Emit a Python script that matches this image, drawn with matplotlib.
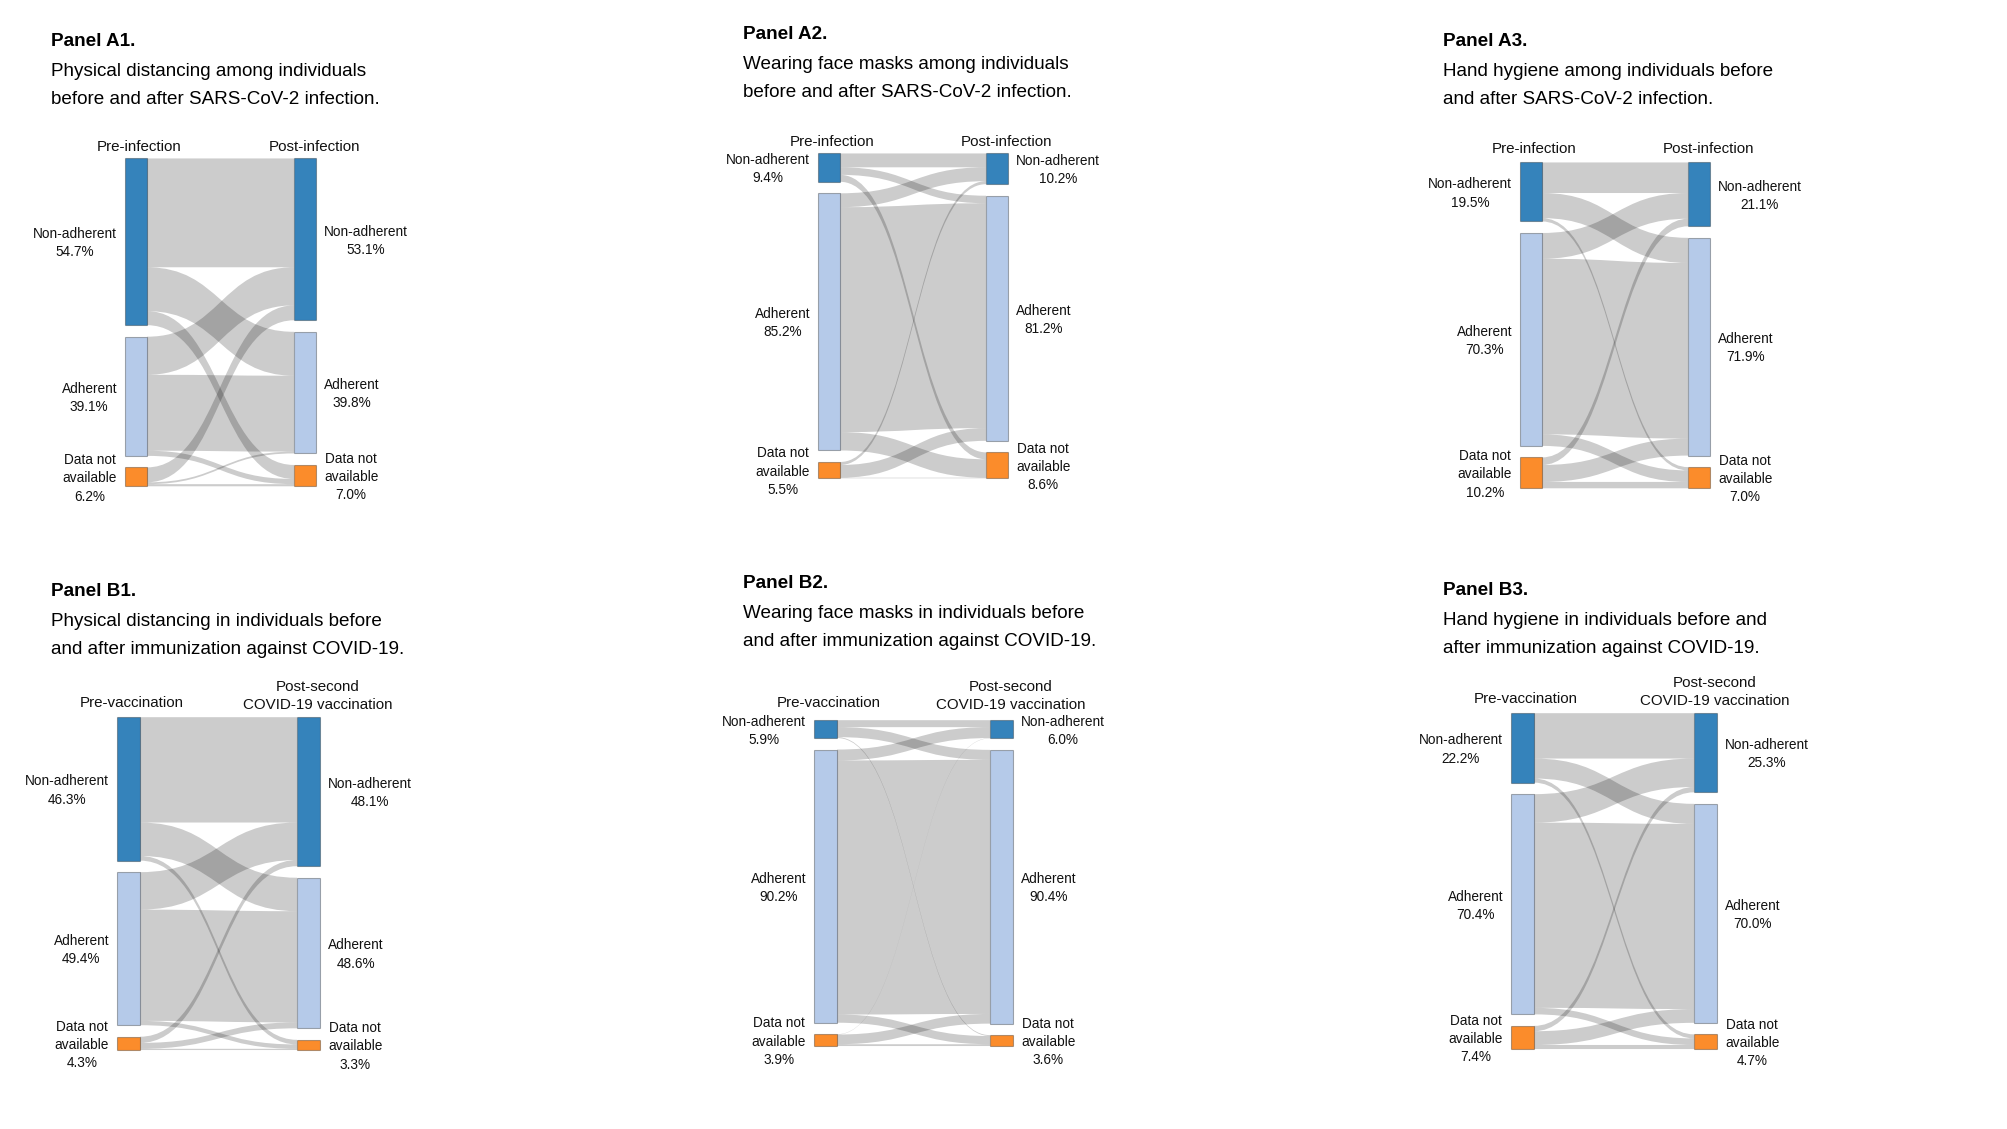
import matplotlib
matplotlib.use("Agg")
import matplotlib.pyplot as plt
from matplotlib.path import Path
from matplotlib.patches import PathPatch, Rectangle
from matplotlib import font_manager

# ---------------- data ----------------
categories = ["Non-adherent", "Adherent", "Data not\navailable"]

panel_names = ["Panel A1.", "Panel A2.", "Panel A3.", "Panel B1.", "Panel B2.", "Panel B3."]
panel_subtitles = [
    "Physical distancing among individuals\nbefore and after SARS-CoV-2 infection.",
    "Wearing face masks among individuals\nbefore and after SARS-CoV-2 infection.",
    "Hand hygiene among individuals before\nand after SARS-CoV-2 infection.",
    "Physical distancing in individuals before\nand after immunization against COVID-19.",
    "Wearing face masks in individuals before\nand after immunization against COVID-19.",
    "Hand hygiene in individuals before and\nafter immunization against COVID-19.",
]
pre_headers = ["Pre-infection"] * 3 + ["Pre-vaccination"] * 3
post_headers = ["Post-infection"] * 3 + ["Post-second\nCOVID-19 vaccination"] * 3

pre_pct_A1 = [54.7, 39.1, 6.2]
post_pct_A1 = [53.1, 39.8, 7.0]
pre_pct_A2 = [9.4, 85.2, 5.5]
post_pct_A2 = [10.2, 81.2, 8.6]
pre_pct_A3 = [19.5, 70.3, 10.2]
post_pct_A3 = [21.1, 71.9, 7.0]
pre_pct_B1 = [46.3, 49.4, 4.3]
post_pct_B1 = [48.1, 48.6, 3.3]
pre_pct_B2 = [5.9, 90.2, 3.9]
post_pct_B2 = [6.0, 90.4, 3.6]
pre_pct_B3 = [22.2, 70.4, 7.4]
post_pct_B3 = [25.3, 70.0, 4.7]

# transitions (rows: pre category, cols: post category), % of individuals
flows_A1 = [[35.7, 14.4, 4.6], [12.5, 24.9, 1.7], [4.9, 0.6, 0.7]]
flows_A2 = [[4.6, 2.5, 2.3], [4.6, 74.5, 6.1], [1.0, 4.2, 0.2]]
flows_A3 = [[10.1, 8.3, 1.1], [8.5, 58.0, 3.8], [2.5, 5.6, 2.1]]
flows_B1 = [[34.0, 10.8, 1.5], [12.1, 35.9, 1.4], [2.0, 1.9, 0.4]]
flows_B2 = [[2.3, 3.3, 0.3], [3.6, 83.9, 2.7], [0.1, 3.2, 0.6]]
flows_B3 = [[14.5, 6.4, 1.3], [9.1, 59.2, 2.1], [1.7, 4.4, 1.3]]

pre_pcts = [pre_pct_A1, pre_pct_A2, pre_pct_A3, pre_pct_B1, pre_pct_B2, pre_pct_B3]
post_pcts = [post_pct_A1, post_pct_A2, post_pct_A3, post_pct_B1, post_pct_B2, post_pct_B3]
flows_all = [flows_A1, flows_A2, flows_A3, flows_B1, flows_B2, flows_B3]

# ---------------- layout (pixels of the 2008x1130 canvas) ----------------
layout = [
    dict(xl=125, xr=294, w=22, top=159, bot=487, tx=51, ty=42, hy=147),
    dict(xl=818, xr=986, w=22, top=154, bot=479, tx=743, ty=35, hy=142),
    dict(xl=1520, xr=1688, w=22, top=163, bot=489, tx=1443, ty=42, hy=149),
    dict(xl=117, xr=297, w=23, top=718, bot=1051, tx=51, ty=592, hy=703),
    dict(xl=814, xr=990, w=23, top=721, bot=1047, tx=743, ty=584, hy=703),
    dict(xl=1511, xr=1694, w=23, top=714, bot=1050, tx=1443, ty=591, hy=699),
]
GAP = 11.5

node_colors = ["#3583bb", "#b5cae9", "#fb8c2b"]
link_color = (0, 0, 0, 0.2)

names = {f.name for f in font_manager.fontManager.ttflist}
NARROW = "Liberation Sans Narrow" in names
FONT = "Liberation Sans Narrow" if NARROW else "Liberation Sans"
if NARROW:
    FS_TITLE, FS_SUB, FS_HEAD, FS_LAB = 15.5, 15.7, 12.5, 11.2
else:
    FS_TITLE, FS_SUB, FS_HEAD, FS_LAB = 13.6, 13.6, 10.9, 9.8
plt.rcParams["font.family"] = [FONT, "DejaVu Sans"]

fig = plt.figure(figsize=(20.08, 11.295), dpi=100)
ax = fig.add_axes([0, 0, 1, 1])
ax.set_xlim(0, 2008)
ax.set_ylim(1130, 0)
ax.axis("off")


def band(x0, y0a, y0b, x1, y1a, y1b):
    xm = (x0 + x1) / 2
    verts = [(x0, y0a), (xm, y0a), (xm, y1a), (x1, y1a),
             (x1, y1b), (xm, y1b), (xm, y0b), (x0, y0b), (x0, y0a)]
    codes = [Path.MOVETO, Path.CURVE4, Path.CURVE4, Path.CURVE4,
             Path.LINETO, Path.CURVE4, Path.CURVE4, Path.CURVE4, Path.CLOSEPOLY]
    return Path(verts, codes)


for p in range(6):
    L = layout[p]
    fl = flows_all[p]
    n = len(categories)
    out_tot = [sum(fl[i]) for i in range(n)]
    in_tot = [sum(fl[i][j] for i in range(n)) for j in range(n)]
    total = max(sum(out_tot), sum(in_tot))
    scale = (L["bot"] - L["top"] - 2 * GAP) / total

    # node positions
    ly, ry = [], []
    y = L["top"]
    for i in range(n):
        ly.append(y)
        y += out_tot[i] * scale + GAP
    y = L["top"]
    for j in range(n):
        ry.append(y)
        y += in_tot[j] * scale + GAP

    x0 = L["xl"] + L["w"]
    x1 = L["xr"]
    # offsets: at source ordered by target, at target ordered by source
    s_pos = {}
    for i in range(n):
        off = ly[i]
        for j in range(n):
            s_pos[(i, j)] = off
            off += fl[i][j] * scale
    t_pos = {}
    for j in range(n):
        off = ry[j]
        for i in range(n):
            t_pos[(i, j)] = off
            off += fl[i][j] * scale
    for i in range(n):
        for j in range(n):
            h = fl[i][j] * scale
            pth = band(x0, s_pos[(i, j)], s_pos[(i, j)] + h,
                       x1, t_pos[(i, j)], t_pos[(i, j)] + h)
            ax.add_patch(PathPatch(pth, facecolor=link_color, edgecolor="none", lw=0))

    # nodes + labels
    for i in range(n):
        ax.add_patch(Rectangle((L["xl"], ly[i]), L["w"], out_tot[i] * scale,
                               facecolor=node_colors[i], edgecolor=(0, 0, 0, 0.3), lw=0.8))
        ax.add_patch(Rectangle((L["xr"], ry[i]), L["w"], in_tot[i] * scale,
                               facecolor=node_colors[i], edgecolor=(0, 0, 0, 0.3), lw=0.8))
        lab = f"{categories[i]}\n{pre_pcts[p][i]:.1f}%"
        ax.text(L["xl"] - 8, ly[i] + out_tot[i] * scale / 2 + 1, lab, ha="right", va="center",
                multialignment="center", fontsize=FS_LAB, linespacing=1.38, color="#111111")
        lab = f"{categories[i]}\n{post_pcts[p][i]:.1f}%"
        ax.text(L["xr"] + L["w"] + 8, ry[i] + in_tot[i] * scale / 2 + 1, lab, ha="left", va="center",
                multialignment="center", fontsize=FS_LAB, linespacing=1.38, color="#111111")

    # column headers
    ax.text(L["xl"] + L["w"] / 2 + 3, L["hy"], pre_headers[p], ha="center", va="center",
            fontsize=FS_HEAD, color="#111111")
    hdr = post_headers[p]
    if "\n" in hdr:
        ax.text(L["xr"] + L["w"] / 2 + 9, L["hy"] + 9, hdr, ha="center", va="bottom",
                multialignment="center", fontsize=FS_HEAD, linespacing=1.3, color="#111111")
    else:
        ax.text(L["xr"] + L["w"] / 2 + 10, L["hy"], hdr, ha="center", va="center",
                fontsize=FS_HEAD, color="#111111")

    # titles
    ax.text(L["tx"], L["ty"], panel_names[p], ha="left", va="center",
            fontsize=FS_TITLE, fontweight="bold", color="black")
    for k, line in enumerate(panel_subtitles[p].split("\n")):
        ax.text(L["tx"], L["ty"] + 28 * (k + 1), line, ha="left", va="center_baseline",
                fontsize=FS_SUB, color="black")

fig.savefig("out.png", dpi=100, facecolor="white")
